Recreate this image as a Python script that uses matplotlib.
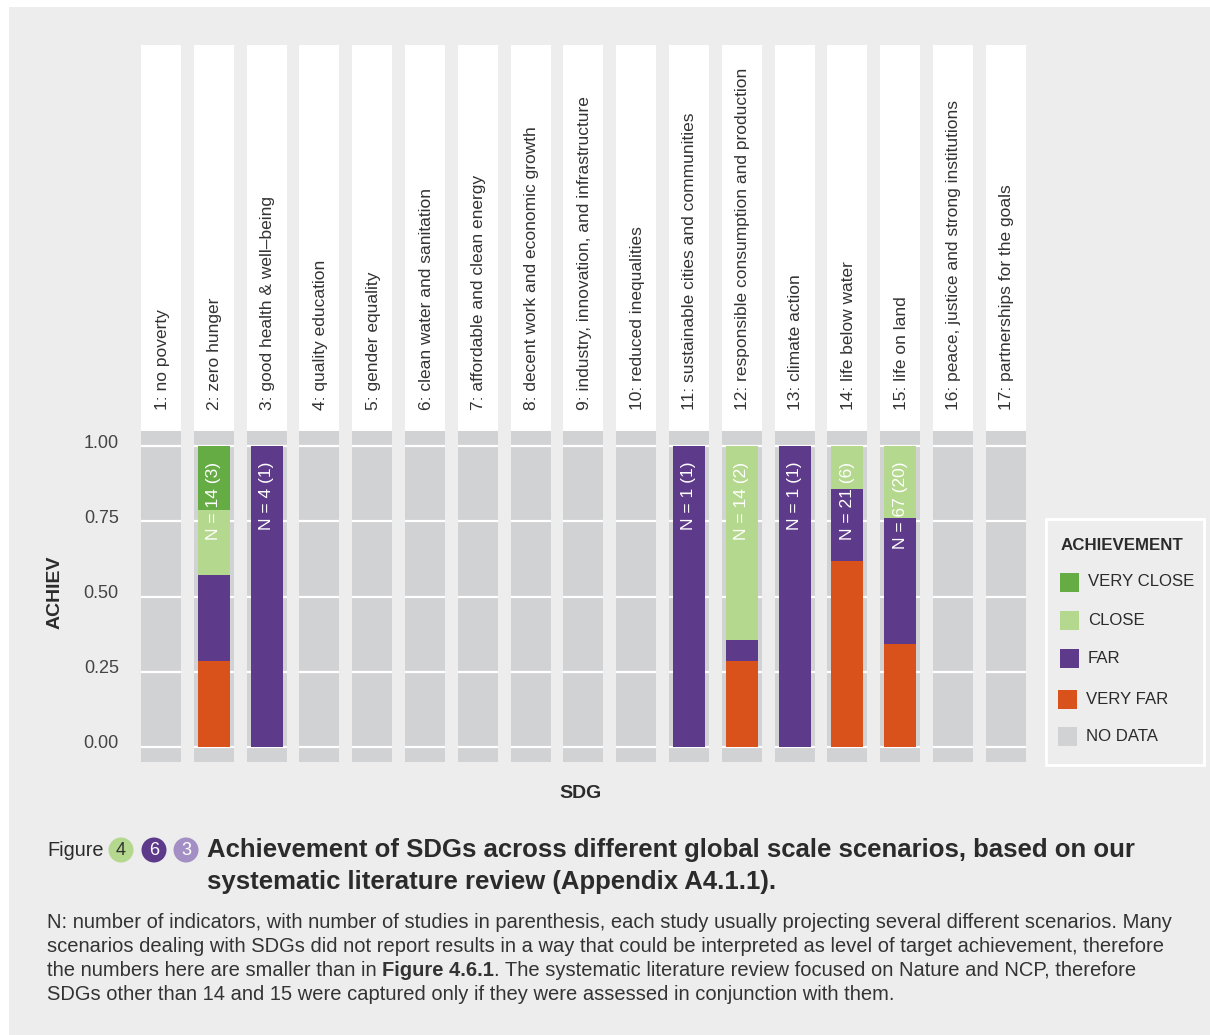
import matplotlib
matplotlib.use("Agg")
import matplotlib.pyplot as plt
import matplotlib.transforms as mtransforms
from matplotlib.patches import Rectangle, Ellipse

plt.rcParams['font.family'] = ['Liberation Sans', 'DejaVu Sans']

# ---------------- data ----------------
sdg_labels = [
    "1: no poverty", "2: zero hunger", "3: good health & well\u2013being",
    "4: quality education", "5: gender equality", "6: clean water and sanitation",
    "7: affordable and clean energy", "8: decent work and economic growth",
    "9: industry, innovation, and infrastructure", "10: reduced inequalities",
    "11: sustainable cities and communities",
    "12: responsible consumption and production", "13: climate action",
    "14: life below water", "15: life on land",
    "16: peace, justice and strong institutions", "17: partnerships for the goals",
]
very_far   = [0, 0.286, 0, 0, 0, 0, 0, 0, 0, 0, 0,   0.286, 0,   0.619, 0.343, 0, 0]
far        = [0, 0.286, 1.0, 0, 0, 0, 0, 0, 0, 0, 1.0, 0.071, 1.0, 0.238, 0.418, 0, 0]
close      = [0, 0.214, 0, 0, 0, 0, 0, 0, 0, 0, 0,   0.643, 0,   0.143, 0.239, 0, 0]
very_close = [0, 0.214, 0, 0, 0, 0, 0, 0, 0, 0, 0,   0,     0,   0,     0,     0, 0]
n_labels   = ["", "N = 14 (3)", "N = 4 (1)", "", "", "", "", "", "", "",
              "N = 1 (1)", "N = 14 (2)", "N = 1 (1)", "N = 21 (6)", "N = 67 (20)", "", ""]
y_ticks = [0, 0.25, 0.5, 0.75, 1.0]
y_ticklabels = ["0.00", "0.25", "0.50", "0.75", "1.00"]
legend_labels = ["VERY CLOSE", "CLOSE", "FAR", "VERY FAR", "NO DATA"]

# ---------------- style ----------------
C_VCLOSE = "#66ac45"
C_CLOSE = "#b4d88d"
C_FAR = "#5e3a8a"
C_VFAR = "#d9521c"
C_NODATA = "#d1d2d4"
BG = "#ededed"
TXT = "#2b2b2b"
legend_colors = [C_VCLOSE, C_CLOSE, C_FAR, C_VFAR, C_NODATA]

W, H = 1210, 1035
fig = plt.figure(figsize=(W / 100, H / 100), dpi=100, facecolor="white")


def fx(x):
    return x / W


def fy(y):
    return 1 - y / H


def T(x, y, s, **kw):
    return fig.text(fx(x), fy(y), s, **kw)


fig.patches.append(Rectangle((fx(9), 0), 1 - fx(9), fy(7), transform=fig.transFigure,
                             facecolor=BG, edgecolor="none", zorder=-10))

panel_w = 40
pitch = 52.8
x0 = 141
strip_top, panel_top, panel_bot = 45, 431, 762

up = mtransforms.ScaledTranslation(0, 5 / 100, fig.dpi_scale_trans)

for i in range(len(sdg_labels)):
    left = x0 + i * pitch
    fig.patches.append(Rectangle((fx(left), fy(panel_top)), panel_w / W,
                                 (panel_top - strip_top) / H, transform=fig.transFigure,
                                 facecolor="white", edgecolor="none", zorder=-5))
    T(left + panel_w / 2 + 1, 410, sdg_labels[i], rotation=90, ha="center", va="bottom",
      fontsize=12.5, color="#333333")
    ax = fig.add_axes([fx(left), fy(panel_bot), panel_w / W, (panel_bot - panel_top) / H])
    ax.set_facecolor(C_NODATA)
    ax.set_xlim(-0.5, 0.5)
    ax.set_ylim(-0.05, 1.05)
    ax.set_yticks(y_ticks)
    ax.set_xticks([])
    ax.grid(axis="y", color="white", linewidth=1.6)
    ax.set_axisbelow(True)
    for sp in ax.spines.values():
        sp.set_visible(False)
    ax.tick_params(length=0)
    if i == 0:
        ax.set_yticklabels(y_ticklabels, fontsize=13, color="#444444")
        ax.tick_params(axis="y", pad=16)
        for lab in ax.get_yticklabels():
            lab.set_transform(lab.get_transform() + up)
    else:
        ax.set_yticklabels([])
    bottom = 0
    for vals, col in [(very_far, C_VFAR), (far, C_FAR), (close, C_CLOSE), (very_close, C_VCLOSE)]:
        v = vals[i]
        if v > 0:
            ax.bar(0, v, bottom=bottom, width=0.8, color=col, edgecolor="none", zorder=3)
            bottom += v
    if n_labels[i]:
        ax.text(0, 0.948, n_labels[i], rotation=90, ha="center", va="top", color="white",
                fontsize=12.5, zorder=5)

# axis titles
T(55, 592, "ACHIEV", rotation=90, ha="center", va="center", fontsize=14,
  fontweight="bold", color=TXT)
T(581, 793, "SDG", ha="center", va="center", fontsize=14, fontweight="bold", color=TXT)

# legend (manual, to match box geometry)
fig.patches.append(Rectangle((fx(1046), fy(765)), 158 / W, 246 / H, transform=fig.transFigure,
                             facecolor=BG, edgecolor="white", linewidth=2, zorder=1))
T(1061, 545, "ACHIEVEMENT", ha="left", va="center", fontsize=12.2, fontweight="bold",
  color=TXT, zorder=2)
key_y = [582, 620.5, 658.5, 699, 736.5]
key_x = [1060, 1060, 1060, 1058, 1058]
for lab, col, ky, kx in zip(legend_labels, legend_colors, key_y, key_x):
    fig.patches.append(Rectangle((fx(kx), fy(ky + 9.5)), 19 / W, 19 / H,
                                 transform=fig.transFigure, facecolor=col,
                                 edgecolor="none", zorder=2))
    T(kx + 28, ky, lab, ha="left", va="center", fontsize=12.1, color=TXT, zorder=2)

# caption heading
T(47, 850, "Figure", ha="left", va="center", fontsize=14.3, color=TXT)
circ = [(121, "4", C_CLOSE, "#333333"), (154, "6", C_FAR, "white"), (186, "3", "#a48fc4", "white")]
for cx, s, fc, tc in circ:
    fig.patches.append(Ellipse((fx(cx), fy(850)), 25 / W, 25 / H, transform=fig.transFigure,
                               facecolor=fc, edgecolor="none"))
    T(cx, 850.5, s, ha="center", va="center", fontsize=13, color=tc)

TITLEFS = 18.5
T(207, 850, "Achievement of SDGs across different global scale scenarios, based on our",
  ha="left", va="center", fontsize=TITLEFS, fontweight="bold", color=TXT)
T(207, 882, "systematic literature review (Appendix A4.1.1).",
  ha="left", va="center", fontsize=TITLEFS, fontweight="bold", color=TXT)

cap_lines = [
    "N: number of indicators, with number of studies in parenthesis, each study usually projecting several different scenarios. Many",
    "scenarios dealing with SDGs did not report results in a way that could be interpreted as level of target achievement, therefore",
    None,
    "SDGs other than 14 and 15 were captured only if they were assessed in conjunction with them.",
]
cap_y = [922, 946, 970, 994]
CAPFS = 14.5
CAPC = "#333333"
for s, y in zip(cap_lines, cap_y):
    if s:
        T(47, y, s, ha="left", va="center", fontsize=CAPFS, color=CAPC)

renderer = fig.canvas.get_renderer()
p1 = T(47, 970, "the numbers here are smaller than in", ha="left", va="center",
       fontsize=CAPFS, color=CAPC)
sp_a = T(0, 0, "x x", fontsize=CAPFS)
sp_b = T(0, 0, "xx", fontsize=CAPFS)
space_w = sp_a.get_window_extent(renderer).width - sp_b.get_window_extent(renderer).width
sp_a.remove()
sp_b.remove()
xb = p1.get_window_extent(renderer).x1 + space_w
p2 = fig.text(xb / W, fy(970), "Figure 4.6.1", ha="left", va="center", fontsize=CAPFS,
              fontweight="bold", color=CAPC)
xc = p2.get_window_extent(renderer).x1
fig.text(xc / W, fy(970), ". The systematic literature review focused on Nature and NCP, therefore",
         ha="left", va="center", fontsize=CAPFS, color=CAPC)

fig.savefig("out.png", dpi=100, facecolor="white")
